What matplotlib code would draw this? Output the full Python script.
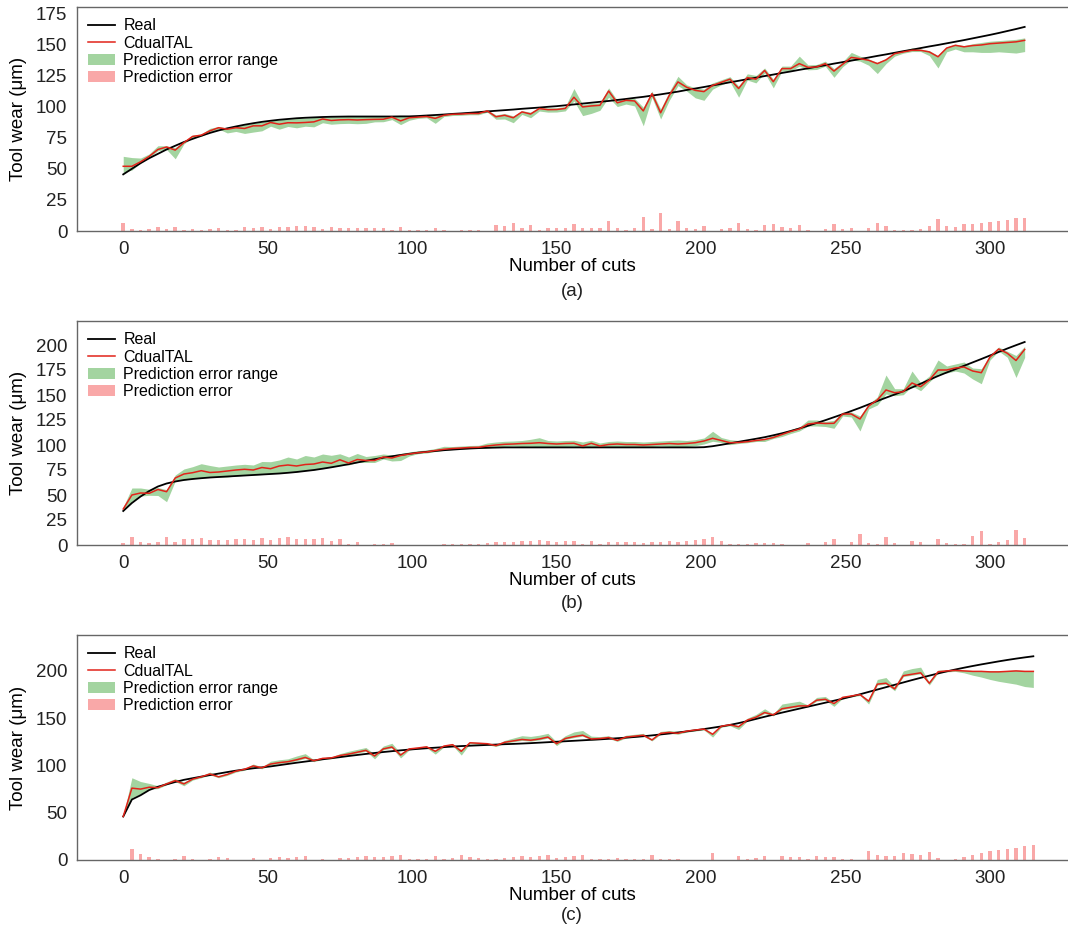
import numpy as np
import matplotlib.pyplot as plt
from matplotlib.lines import Line2D
from matplotlib.patches import Patch

plt.rcParams['font.family'] = ['Liberation Sans', 'DejaVu Sans']

# number of cuts (every third cut)
cuts_ab = np.arange(0, 313, 3)
cuts_c = np.arange(0, 316, 3)

# ---- panel (a) ----
real_a = [45.5, 50, 54.5, 58.5, 62, 65.5, 68.5, 71.5, 74, 76.5,
          78.8, 80.8, 82.5, 84, 85.4, 86.6, 87.7, 88.6, 89.4, 90,
          90.6, 91, 91.3, 91.6, 91.8, 91.9, 92, 92, 92, 92,
          92, 92, 92.1, 92.1, 92.4, 92.8, 93.2, 93.6, 94.1, 94.5,
          95, 95.5, 96.1, 96.6, 97.1, 97.6, 98.2, 98.7, 99.2, 99.8,
          100.3, 101, 101.7, 102.4, 103.1, 103.8, 104.5, 105.3, 106.1, 107,
          107.8, 108.8, 109.8, 110.9, 112, 113.3, 114.5, 115.7, 117, 118.2,
          119.5, 120.7, 122, 123.2, 124.5, 125.7, 127, 128.2, 129.5, 130.7,
          132, 133.2, 134.5, 135.7, 136.9, 138.2, 139.4, 140.7, 141.9, 143.2,
          144.5, 145.7, 147, 148.3, 149.5, 150.8, 152.1, 153.4, 154.8, 156.2,
          157.6, 159.1, 160.7, 162.3, 164]
pred_a = [52, 52, 55.6, 60, 65.5, 67.5, 65, 71, 76, 77,
          80.5, 83, 81.8, 83, 82.4, 84.5, 84.5, 87.2, 85.8, 87,
          86.9, 87.2, 87.7, 90, 88.8, 89.3, 89.5, 89.2, 89.5, 89.7,
          89.8, 91.5, 88.5, 91, 91.5, 92, 90.5, 93, 93.8, 94,
          94.4, 94.4, 96.5, 91.8, 93, 91, 95.7, 94, 98.4, 97.5,
          97.6, 98.5, 107.5, 99.7, 100.5, 101, 112.5, 103, 105, 104.5,
          96.5, 110.4, 95, 109, 119.8, 115.5, 113, 112, 117, 119.5,
          122, 114.5, 123.3, 122, 129, 120, 130.5, 130.5, 134.5, 131.5,
          131.8, 134.5, 128.5, 134, 139.5, 138.5, 137.2, 134.5, 137.5, 142.5,
          143.9, 145.2, 145.2, 143.9, 140, 147, 149.2, 148, 149, 149.5,
          150.5, 151, 151.5, 152, 153.2]
up_a = [8, 7, 3, 2, 3, 1, 2, 1, 1, 1,
        2, 1, 1, 1.5, 3, 2, 3, 1.5, 3.5, 3,
        3.5, 3.5, 3.5, 1.5, 3, 2.5, 2.5, 2.8, 2.5, 2.3,
        2.2, 0.8, 3.5, 1, 1, 1, 2, 1, 1, 1,
        1, 1, 1, 1.5, 1.5, 1.5, 1, 1.5, 1, 1.5,
        1.5, 1.5, 7, 2, 2, 2, 2.5, 2, 1.5, 2,
        3, 2, 3, 3, 4.5, 2, 2, 2, 2, 2,
        2, 2, 3, 3, 2, 2, 2, 2, 6, 2,
        2, 2, 2, 2, 4, 2, 1, 1, 1, 1,
        1, 2, 1, 1, 1, 1, 1, 1, 1.5, 2,
        2, 2, 2, 2, 2]
dn_a = [5, 3, 1, 1, 1, 2, 7, 1, 1, 1,
        1, 1, 3, 3, 4, 5, 4, 3, 4, 3,
        4, 3, 4, 3, 3, 3, 3, 3, 3, 2,
        2, 2, 3, 2, 1, 1, 4, 1, 1, 1,
        1, 1, 1, 2, 3, 4, 2, 3, 2, 2,
        2, 2, 3, 7, 6, 4, 5, 3, 3, 4,
        12, 3, 5, 4, 3, 3, 6, 7, 3, 2,
        2, 7, 2, 3, 2, 5, 2, 2, 2, 2,
        2, 2, 5, 2, 2, 2, 4, 8, 3, 2,
        1, 1, 1, 3, 9, 3, 3, 4, 5, 6,
        7, 7, 8, 9, 9]

# ---- panel (b) ----
real_b = [34, 42, 48.5, 54, 58.5, 61.5, 63.5, 65, 66, 66.8,
          67.5, 68, 68.5, 69, 69.5, 70, 70.5, 71, 71.5, 72.2,
          73, 74, 75, 76.3, 77.7, 79.2, 80.8, 82.5, 84.2, 85.8,
          87.3, 88.7, 90, 91.2, 92.3, 93.2, 94, 94.8, 95.4, 96,
          96.5, 96.9, 97.2, 97.4, 97.6, 97.6, 97.6, 97.6, 97.6, 97.6,
          97.6, 97.6, 97.6, 97.6, 97.6, 97.6, 97.6, 97.6, 97.6, 97.6,
          97.6, 97.6, 97.6, 97.6, 97.6, 97.6, 97.6, 97.8, 98.8, 100.2,
          101.7, 103.2, 104.7, 106.2, 107.8, 109.7, 111.7, 114, 116.5, 119.2,
          122, 124.8, 127.8, 130.8, 134, 137.2, 140.6, 144, 147.3, 150.5,
          153.8, 157.5, 161.3, 165.2, 169, 172.5, 175.8, 179.2, 182.6, 186,
          189.5, 193, 196.5, 199.8, 203]
pred_b = [36, 50, 52, 51.7, 55.5, 53.3, 67, 71, 72.3, 74.3,
          72.5, 73, 74, 75, 75.7, 75, 77.5, 76.3, 79, 80,
          79, 80.5, 81, 83, 81.7, 85.2, 82, 85.5, 84.5, 84.5,
          88, 87, 89.5, 91, 92.3, 93, 94.5, 95.7, 96.5, 97,
          97.5, 97.7, 99, 100, 100.7, 101, 101.5, 101.7, 102.3, 101.5,
          101, 101.5, 101.7, 99, 101.7, 99, 100.5, 101, 100.5, 100.5,
          100, 100.5, 101, 101.5, 101, 101.5, 102.3, 104, 106.7, 104.5,
          102.3, 102.5, 103.3, 104.5, 105.5, 107.5, 110.5, 113.5, 116, 121,
          122, 121.5, 121.7, 131, 131, 126, 139, 145, 155, 152.3,
          153.3, 162, 158.3, 165, 175, 175, 177, 178, 174, 172.3,
          188, 196, 191.7, 184.5, 195.6]
up_b = [2, 7, 5, 4, 2, 2, 3, 5, 6, 7,
        7, 5, 5, 5, 5, 5, 6, 7, 6, 8,
        7, 9, 7, 8, 8, 6, 6, 6, 4, 5,
        3, 3, 2, 2, 2, 2, 2, 3, 2, 2,
        2, 2, 3, 3, 3, 3, 3, 4, 5, 3,
        3, 3, 3, 4, 3, 3, 3, 3, 3, 3,
        3, 3, 3, 3, 4, 3, 3, 3, 7, 3,
        3, 2, 1, 1, 1, 2, 2, 2, 2, 4,
        3, 2, 3, 2, 2, 3, 2, 3, 15, 4,
        3, 12, 4, 4, 10, 4, 4, 5, 3, 4,
        2, 2, 2, 5, 3]
dn_b = [2, 6, 3, 2, 6, 10, 3, 6, 6, 7,
        5, 5, 6, 6, 6, 5, 7, 5, 7, 7,
        6, 6, 6, 6, 4, 5, 2, 3, 2, 2,
        2, 3, 5, 2, 1, 1, 1, 1, 1, 1,
        1, 1, 2, 2, 2, 2, 3, 3, 4, 3,
        3, 3, 3, 2, 3, 1, 2, 3, 2, 2,
        2, 2, 2, 3, 3, 3, 3, 3, 3, 2,
        2, 1, 1, 1, 2, 1, 2, 2, 2, 2,
        3, 3, 5, 2, 3, 12, 3, 5, 4, 3,
        3, 3, 4, 2, 4, 3, 3, 6, 8, 11,
        3, 2, 4, 17, 8]

# ---- panel (c) ----
real_c = [46, 64, 68.5, 74, 77.5, 80, 82.5, 84.8, 86.5, 88.2,
          89.8, 91.4, 93, 94.5, 95.8, 97, 98, 99, 100.3, 101.6,
          102.9, 104.1, 105.3, 106.5, 107.7, 108.8, 110, 111.1, 112.2, 113.2,
          114.2, 115.1, 116, 116.8, 117.5, 118.2, 118.8, 119.4, 120, 120.5,
          120.9, 121.3, 121.7, 122.1, 122.5, 122.8, 123.2, 123.6, 124.1, 124.6,
          125.1, 125.6, 126.1, 126.6, 127.1, 127.6, 128.2, 128.8, 129.4, 130.1,
          130.9, 131.8, 132.8, 133.8, 134.9, 136, 137.2, 138.5, 139.9, 141.3,
          142.9, 144.8, 146.9, 149.2, 151.5, 153.7, 155.9, 158, 160.1, 162.2,
          164.3, 166.4, 168.5, 170.6, 172.9, 175.3, 177.8, 180.3, 182.8, 185.3,
          187.8, 190.3, 192.7, 195, 197.3, 199.5, 201.5, 203.4, 205.2, 206.9,
          208.5, 210.1, 211.6, 213, 214.3, 215.5]
pred_c = [46, 76, 75, 77, 76.5, 80.5, 84, 80.5, 85.5, 88,
          91, 88, 90.5, 94, 96, 99.5, 97.5, 101.5, 103, 104,
          106, 108.5, 105, 107.5, 108, 110.5, 112, 114, 116, 110,
          117.5, 119.5, 111, 117.5, 118.5, 119.7, 115, 120.5, 122, 115,
          124, 123.5, 123, 121, 124.5, 126, 127.5, 126.7, 128, 130,
          123, 128.5, 130.5, 132, 128, 128.5, 129.5, 126.5, 130, 131,
          132, 127, 134, 135, 134, 136.3, 137.5, 138.5, 133, 141.5,
          143, 141, 148, 151, 156, 153.5, 160, 161.5, 163, 163,
          169, 170, 165.5, 172, 173.5, 175, 168, 186, 187, 181,
          195, 196.5, 198, 187, 199, 200, 200.5, 200, 199.5, 199.5,
          199, 199, 199.5, 200, 199.5, 199.5]
up_c = [0.5, 11, 8, 4, 2, 2, 2, 2, 1, 1,
        2, 1, 1, 1, 1, 2, 1, 3, 3, 3,
        4, 4, 1, 1, 1, 2, 3, 3, 3, 2,
        3, 4, 2, 1, 1, 1, 1, 1, 1, 2,
        1, 1, 1, 1, 2, 3, 4, 4, 4, 4,
        2, 3, 5, 5, 3, 2, 2, 1, 2, 2,
        2, 1, 2, 2, 2, 1, 1, 1, 1, 1,
        1, 1, 2, 3, 4, 1, 5, 5, 5, 1,
        3, 3, 1, 1, 1, 1, 1, 5, 6, 2,
        5, 6, 6, 1, 2, 1, 1, 1, 1, 1,
        1, 1, 1, 1, 1, 1]
dn_c = [0.5, 10, 5, 2, 1, 1, 1, 2, 1, 1,
        1, 1, 1, 1, 1, 1, 1, 1, 1, 1,
        1, 1, 1, 1, 1, 1, 1, 1, 1, 3,
        1, 1, 3, 1, 1, 1, 3, 1, 1, 4,
        1, 1, 1, 1, 1, 1, 1, 1, 1, 1,
        2, 1, 1, 1, 1, 1, 1, 1, 1, 1,
        1, 1, 1, 1, 1, 1, 1, 1, 3, 1,
        1, 3, 1, 1, 1, 1, 1, 1, 1, 1,
        1, 1, 3, 1, 1, 1, 3, 1, 1, 2,
        1, 1, 1, 2, 1, 1, 1, 2, 4, 6,
        8, 10, 12, 14, 16, 17]

GREEN = '#a3d4a0'
PINK = '#f9a8a8'
RED = '#e2231a'


def draw_panel(ax, cuts, real, pred, up, dn, yticks, ylim):
    real = np.array(real)
    pred = np.array(pred)
    ax.fill_between(cuts, pred - np.array(dn), pred + np.array(up),
                    color=GREEN, lw=0)
    ax.bar(cuts, np.abs(pred - real), width=1.2, color=PINK, lw=0)
    ax.plot(cuts, real, color='black', lw=1.3)
    ax.plot(cuts, pred, color=RED, lw=1.1)

    ax.set_xlim(-16, 327)
    ax.set_ylim(*ylim)
    ax.set_xticks([0, 50, 100, 150, 200, 250, 300])
    ax.set_yticks(yticks)
    ax.tick_params(length=0, pad=7, labelsize=13.5, colors='#222222')
    for s in ['left', 'bottom', 'top']:
        ax.spines[s].set_color('#666666')
        ax.spines[s].set_linewidth(1.0)
    ax.spines['right'].set_visible(False)
    ax.set_xlabel('Number of cuts', fontsize=13.5, labelpad=0)
    ax.set_ylabel('Tool wear (\u03bcm)', fontsize=13.5)
    ax.yaxis.set_label_coords(-0.05, 0.5)

    handles = [Line2D([], [], color='black', lw=1.3),
               Line2D([], [], color=RED, lw=1.1),
               Patch(facecolor=GREEN, edgecolor='none'),
               Patch(facecolor=PINK, edgecolor='none')]
    labels = ['Real', 'CdualTAL', 'Prediction error range', 'Prediction error']
    ax.legend(handles, labels, loc='upper left', frameon=False, fontsize=11.5,
              handlelength=1.7, handletextpad=0.5, labelspacing=0.15,
              borderaxespad=0.5, borderpad=0.2)


fig = plt.figure(figsize=(10.68, 9.35), dpi=100)
ax_a = fig.add_axes([77 / 1068, 1 - 231 / 935, 1 - 77 / 1068, 224 / 935])
ax_b = fig.add_axes([77 / 1068, 1 - 545 / 935, 1 - 77 / 1068, 224 / 935])
ax_c = fig.add_axes([77 / 1068, 1 - 860 / 935, 1 - 77 / 1068, 225 / 935])

draw_panel(ax_a, cuts_ab, real_a, pred_a, up_a, dn_a,
           [0, 25, 50, 75, 100, 125, 150, 175], (0, 180))
draw_panel(ax_b, cuts_ab, real_b, pred_b, up_b, dn_b,
           [0, 25, 50, 75, 100, 125, 150, 175, 200], (0, 224))
draw_panel(ax_c, cuts_c, real_c, pred_c, up_c, dn_c,
           [0, 50, 100, 150, 200], (0, 238))

for tag, ypix in [('(a)', 291), ('(b)', 604), ('(c)', 915)]:
    fig.text(572 / 1068, 1 - ypix / 935, tag, fontsize=13.5,
             ha='center', va='center', color='#222222')

fig.savefig('out.png', dpi=100)
